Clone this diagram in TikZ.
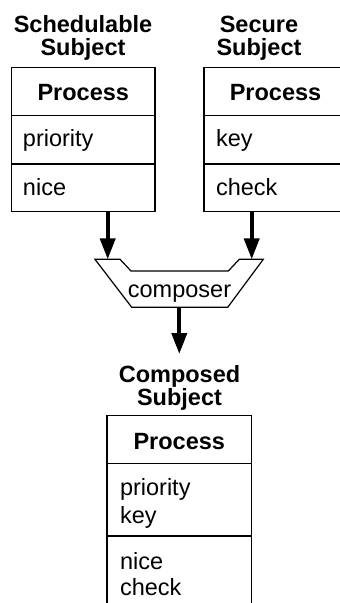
\documentclass[tikz,border=0pt]{standalone}
\usepackage{fontspec}
\setmainfont{Liberation Sans}
\usetikzlibrary{arrows.meta}
\begin{document}
\begin{tikzpicture}[x=1pt,y=-1pt,
  every node/.style={inner sep=0pt,outer sep=0pt,font=\fontsize{23.5}{23.5}\selectfont},
  cell/.style={draw,line width=1.2pt,anchor=north west},
  ttl/.style={anchor=base,align=center,font=\fontsize{23.5}{23}\selectfont\bfseries},
  ttlb/.style={anchor=base,align=center,font=\fontsize{23.5}{20}\selectfont\bfseries},
  hdr/.style={anchor=base,font=\fontsize{23.5}{23.5}\selectfont\bfseries},
  fld/.style={anchor=base west},
  flow/.style={line width=4pt,-{Triangle[width=15pt,length=21pt]}}]
\useasboundingbox (0,0) rectangle (340,603);
\clip (0,0) rectangle (340,603);
% left subject
\node[ttl] (lt) at (83,55) {Schedulable\\Subject};
\node[cell,minimum width=143.3pt,minimum height=48.4pt] (l1) at (11.7,67.3) {};
\node[cell,minimum width=143.3pt,minimum height=48.3pt] (l2) at (11.7,115.7) {};
\node[cell,minimum width=143.3pt,minimum height=47.7pt] (l3) at (11.7,164) {};
\node[hdr] (lh) at (83.3,100.7) {Process};
\node[fld] (lf1) at (23,146) {priority};
\node[fld] (lf2) at (23,195) {nice};
% right subject
\node[ttl] (rt) at (259,55) {Secure\\Subject};
\node[cell,minimum width=143.3pt,minimum height=48.4pt] (r1) at (204,67.3) {};
\node[cell,minimum width=143.3pt,minimum height=48.3pt] (r2) at (204,115.7) {};
\node[cell,minimum width=143.3pt,minimum height=47.7pt] (r3) at (204,164) {};
\node[hdr] (rh) at (275.5,100.7) {Process};
\node[fld] (rf1) at (216,146) {key};
\node[fld] (rf2) at (216,195) {check};
% composer
\coordinate (c1) at (95,259.3);
\coordinate (c2) at (120,259.3);
\coordinate (c3) at (131,271);
\coordinate (c4) at (228.3,271);
\coordinate (c5) at (239.3,259.3);
\coordinate (c6) at (263.3,259.3);
\coordinate (c7) at (227.7,307.3);
\coordinate (c8) at (131.7,307.3);
\draw[line width=1.2pt,line join=miter] (c1) -- (c2) -- (c3) -- (c4) -- (c5) -- (c6) -- (c7) -- (c8) -- cycle;
\node[anchor=base] (comp) at (179.5,297) {composer};
\coordinate (inL) at (107.7,259.3);
\coordinate (inR) at (251.7,259.3);
\coordinate (out) at (179.3,307.3);
\draw[flow] (l3.south -| inL) -- (inL);
\draw[flow] (r3.south -| inR) -- (inR);
\coordinate (dn) at (179.3,354);
\draw[flow] (out) -- (dn);
% composed subject
\node[ttlb] (ct) at (179.5,405) {Composed\\Subject};
\node[cell,minimum width=144.7pt,minimum height=47.7pt] (b1) at (107,415.7) {};
\node[cell,minimum width=144.7pt,minimum height=72.6pt] (b2) at (107,463.4) {};
\node[cell,minimum width=144.7pt,minimum height=80pt] (b3) at (107,536) {};
\node[hdr] (bh) at (179.3,449) {Process};
\node[fld,align=left,font=\fontsize{23.5}{28}\selectfont] (bf1) at (120,523) {priority\\key};
\node[fld,align=left,font=\fontsize{23.5}{26}\selectfont] (bf3) at (120,595) {nice\\check};
\end{tikzpicture}
\end{document}
